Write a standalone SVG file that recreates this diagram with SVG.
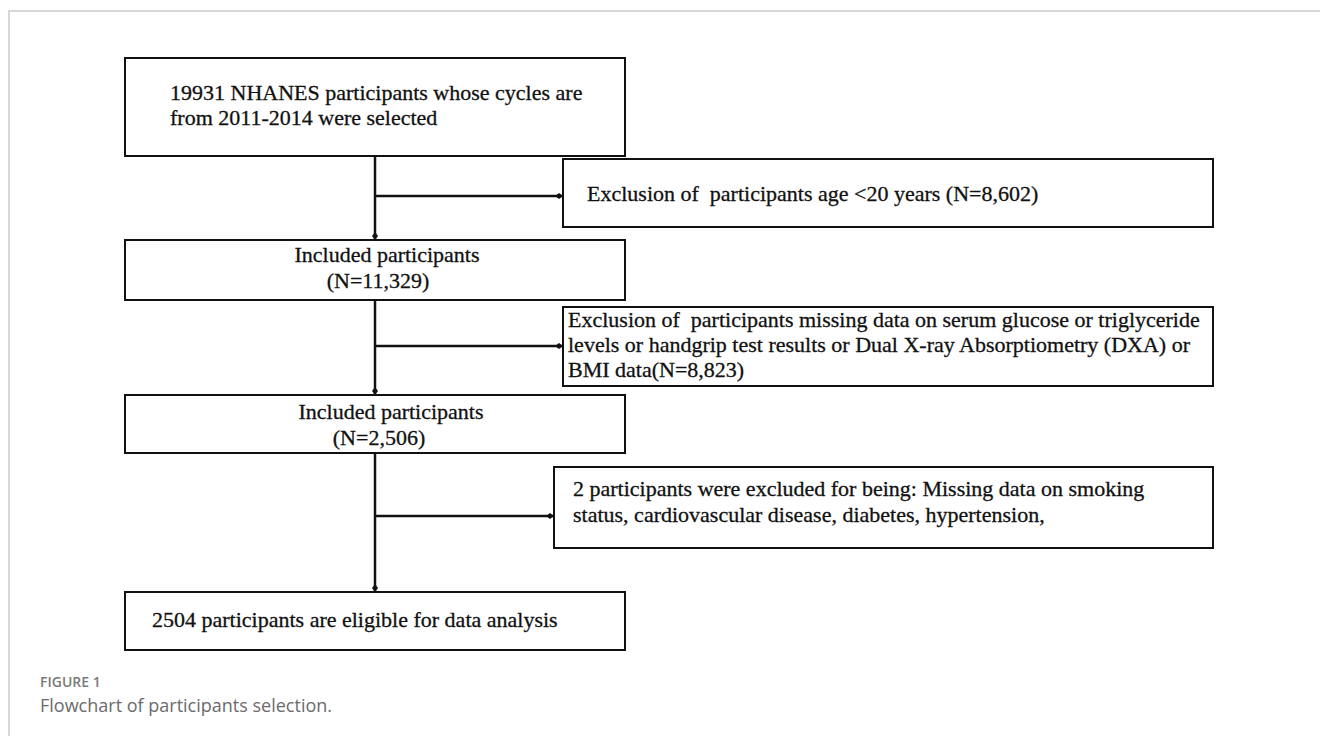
<svg xmlns="http://www.w3.org/2000/svg" width="1320" height="736" viewBox="0 0 1320 736">
<style>
.box{fill:#fff;stroke:#111;stroke-width:2}
.t{font-family:"Liberation Serif","Times New Roman",serif;font-size:22px;fill:#111;stroke:#111;stroke-width:0.3}
.c{text-anchor:middle}
.ln{stroke:#111;stroke-width:2.5;fill:none}
.frame{stroke:#cccccc;stroke-width:1.5;fill:none}
.cap1{font-family:"Open Sans","Noto Sans",sans-serif;font-size:14px;font-weight:600;fill:#7a7a7a}
.cap2{font-family:"Open Sans","Noto Sans",sans-serif;font-size:18px;fill:#6b6b6b}
</style>
<defs>
<marker id="ah" viewBox="-9 -4 9 8" refX="0" refY="0" markerWidth="9" markerHeight="8" markerUnits="userSpaceOnUse" orient="auto">
<path d="M-8,0 L-4,-3 L0,0 L-4,3 Z" fill="#111"/>
</marker>
</defs>
<rect width="1320" height="736" fill="#fff"/>
<path class="frame" d="M9,736 V11 H1320"/>
<g id="connectors">
<path class="ln" d="M375,156 V240" marker-end="url(#ah)"/>
<path class="ln" d="M375,196 H563" marker-end="url(#ah)"/>
<path class="ln" d="M375,300 V395" marker-end="url(#ah)"/>
<path class="ln" d="M375,346 H563" marker-end="url(#ah)"/>
<path class="ln" d="M375,453 V592" marker-end="url(#ah)"/>
<path class="ln" d="M375,516 H554" marker-end="url(#ah)"/>
</g>
<g id="start">
<rect class="box" x="125" y="58" width="500" height="98"/>
<text class="t" x="170" y="100">19931 NHANES participants whose cycles are</text>
<text class="t" x="170" y="125">from 2011-2014 were selected</text>
</g>
<g id="excl1">
<rect class="box" x="563" y="159" width="650" height="68"/>
<text class="t" x="587" y="201" xml:space="preserve">Exclusion of  participants age &lt;20 years (N=8,602)</text>
</g>
<g id="incl1">
<rect class="box" x="125" y="240" width="500" height="60"/>
<text class="t c" x="387" y="262">Included participants</text>
<text class="t c" x="378" y="288">(N=11,329)</text>
</g>
<g id="excl2">
<rect class="box" x="563" y="307" width="650" height="79"/>
<text class="t" x="568" y="327" xml:space="preserve">Exclusion of  participants missing data on serum glucose or triglyceride</text>
<text class="t" x="568" y="352">levels or handgrip test results or Dual X-ray Absorptiometry (DXA) or</text>
<text class="t" x="568" y="377">BMI data(N=8,823)</text>
</g>
<g id="incl2">
<rect class="box" x="125" y="395" width="500" height="58"/>
<text class="t c" x="391" y="419">Included participants</text>
<text class="t c" x="379" y="445">(N=2,506)</text>
</g>
<g id="excl3">
<rect class="box" x="554" y="467" width="659" height="81"/>
<text class="t" x="573" y="496">2 participants were excluded for being: Missing data on smoking</text>
<text class="t" x="573" y="522">status, cardiovascular disease, diabetes, hypertension,</text>
</g>
<g id="final">
<rect class="box" x="125" y="592" width="500" height="58"/>
<text class="t" x="152" y="627">2504 participants are eligible for data analysis</text>
</g>
<g id="caption">
<text class="cap1" x="40" y="687">FIGURE 1</text>
<text class="cap2" x="40" y="712">Flowchart of participants selection.</text>
</g>
</svg>
